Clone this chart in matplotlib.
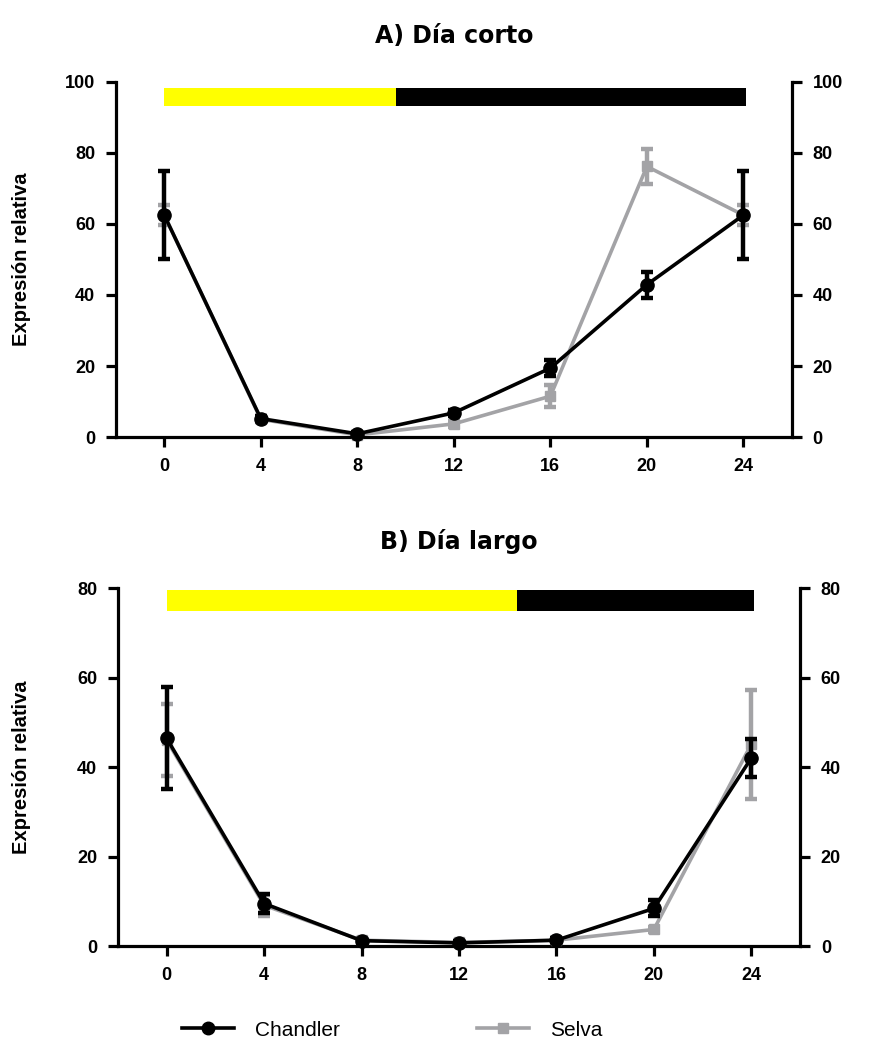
import numpy as np
import matplotlib
matplotlib.use('Agg')
import matplotlib.pyplot as plt
from matplotlib.lines import Line2D

plt.rcParams['font.family'] = ['Liberation Sans', 'DejaVu Sans']

# horas
horas = [0, 4, 8, 12, 16, 20, 24]

# A) Día corto
corto_chandler = [62.5, 5.2, 0.9, 6.8, 19.4, 42.9, 62.5]
corto_chandler_err = [12.5, 0.8, 0.5, 0.8, 2.2, 3.7, 12.5]
corto_selva = [62.5, 5.0, 0.6, 3.7, 11.5, 76.2, 62.5]
corto_selva_err = [2.8, 0.8, 0.4, 0.8, 3.1, 5.0, 2.8]

# B) Día largo
largo_chandler = [46.4, 9.5, 1.2, 0.7, 1.3, 8.4, 42.0]
largo_chandler_err = [11.4, 2.1, 0.4, 0.4, 0.4, 1.8, 4.3]
largo_selva = [46.0, 9.1, 1.3, 0.8, 1.3, 3.7, 45.1]
largo_selva_err = [8.0, 2.4, 0.4, 0.4, 0.4, 0.6, 12.2]

# fotoperiodo (luz, oscuridad) en horas
luz_corto = (0, 9.6)
osc_corto = (9.6, 24.1)
luz_largo = (0, 14.4)
osc_largo = (14.4, 24.1)

gris = '#a3a3a6'

fig = plt.figure(figsize=(8.69, 10.48), dpi=100)
ax_a = fig.add_axes([0.1335, 0.583, 0.7775, 0.3388])
ax_b = fig.add_axes([0.1358, 0.0973, 0.7848, 0.3416])


def panel(ax, chandler, ch_err, selva, se_err, ymax, yticks, luz, osc, barra_y, barra_h, titulo, xlab):
    ax.errorbar(horas, selva, yerr=se_err, color=gris, lw=2.6, marker='s', ms=7.5,
                capsize=4.5, capthick=3.2, elinewidth=3.2, clip_on=False, zorder=3)
    ax.errorbar(horas, chandler, yerr=ch_err, color='black', lw=2.6, marker='o', ms=9.5,
                capsize=4.5, capthick=3.2, elinewidth=3.2, clip_on=False, zorder=4)
    ax.broken_barh([(luz[0], luz[1] - luz[0])], (barra_y, barra_h), facecolors='#ffff00')
    ax.broken_barh([(osc[0], osc[1] - osc[0])], (barra_y, barra_h), facecolors='black')
    ax.set_xlim(-2, 26)
    ax.set_ylim(0, ymax)
    ax.set_xticks(horas)
    ax.set_yticks(yticks)
    ax.spines['top'].set_visible(False)
    for s in ['left', 'right', 'bottom']:
        ax.spines[s].set_linewidth(2.3)
    ax.tick_params(axis='both', direction='out', length=7, width=2.3, labelsize=13, pad=8)
    ax.tick_params(axis='y', right=True, labelright=True)
    for lab in ax.get_xticklabels() + ax.get_yticklabels():
        lab.set_fontweight('bold')
    ax.set_ylabel('Expresión relativa', fontsize=14.5, fontweight='bold')
    ax.yaxis.set_label_coords(xlab, 0.5)
    ax.set_title(titulo, fontsize=17, fontweight='bold', pad=28, family='DejaVu Sans')


panel(ax_a, corto_chandler, corto_chandler_err, corto_selva, corto_selva_err,
      100, [0, 20, 40, 60, 80, 100], luz_corto, osc_corto, 93.2, 5.1, 'A) Día corto', -0.126)
panel(ax_b, largo_chandler, largo_chandler_err, largo_selva, largo_selva_err,
      80, [0, 20, 40, 60, 80], luz_largo, osc_largo, 74.9, 4.6, 'B) Día largo', -0.128)

handles = [Line2D([], [], color='black', lw=2.6, marker='o', ms=9),
           Line2D([], [], color=gris, lw=2.6, marker='s', ms=7)]
fig.legend(handles, ['Chandler', 'Selva'], loc='center left', bbox_to_anchor=(0.209, 0.017),
           ncol=2, frameon=False, fontsize=15, handlelength=2.5, columnspacing=6.6,
           handletextpad=1.0, borderpad=0, borderaxespad=0)

fig.savefig('out.png', dpi=100)
